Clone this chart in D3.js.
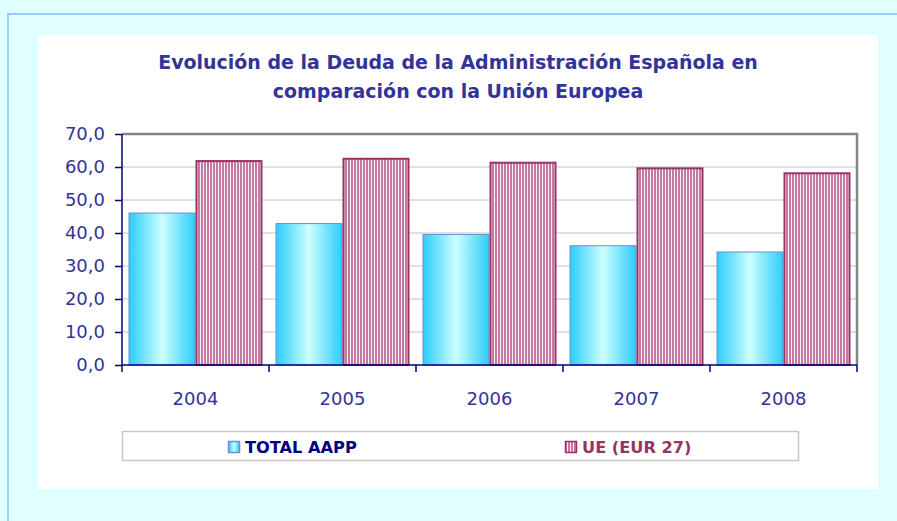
<!DOCTYPE html>
<html>
<head>
<meta charset="utf-8">
<script src="https://cdn.jsdelivr.net/npm/d3@7"></script>
<style>
  body { margin: 0; background: #e0ffff; }
  svg { display: block; }
  text { font-family: "DejaVu Sans", Verdana, sans-serif; }
</style>
</head>
<body>
<div id="container"></div>
<script>
/* DATA */
const years = ["2004", "2005", "2006", "2007", "2008"]
const totalAapp = [46.2, 43.0, 39.7, 36.3, 34.4]
const ueEur27 = [62.1, 62.8, 61.6, 59.9, 58.4]
const seriesNames = ["TOTAL AAPP", "UE (EUR 27)"]
const yTicks = [0, 10, 20, 30, 40, 50, 60, 70]
const titleLines = ["Evolución de la Deuda de la Administración Española en", "comparación con la Unión Europea"]

/* CONSTANTS */
const width = 897,
  height = 521
const plot = { left: 122, right: 857, top: 134, bottom: 365 }
const navy = "#333399"

const svg = d3.select("#container")
  .append("svg")
  .attr("width", width)
  .attr("height", height)

const defs = svg.append("defs")

// blue bars: horizontal gradient, pale in the middle
const grad = defs.append("linearGradient")
  .attr("id", "blueGrad")
  .attr("x1", "0%").attr("x2", "100%")
  .attr("y1", "0%").attr("y2", "0%")
grad.append("stop").attr("offset", "0%").attr("stop-color", "#2ccdfb")
grad.append("stop").attr("offset", "50%").attr("stop-color", "#ccffff")
grad.append("stop").attr("offset", "100%").attr("stop-color", "#2ccdfb")

// red bars: vertical stripes
const pat = defs.append("pattern")
  .attr("id", "stripes")
  .attr("patternUnits", "userSpaceOnUse")
  .attr("width", 3).attr("height", 10)
pat.append("rect").attr("width", 3).attr("height", 10).attr("fill", "#c27a9f")
pat.append("rect").attr("width", 1).attr("height", 10).attr("fill", "#fbf0f6")

// outer frame + white chart area
svg.append("rect")
  .attr("x", 8).attr("y", 14)
  .attr("width", width).attr("height", height)
  .attr("fill", "#e0ffff")
  .attr("stroke", "#99ccff")
  .attr("stroke-width", 2)

svg.append("rect")
  .attr("x", 38).attr("y", 35)
  .attr("width", 840).attr("height", 454)
  .attr("fill", "white")

// TITLE
const title = svg.append("text")
  .attr("text-anchor", "middle")
  .attr("fill", navy)
  .attr("font-weight", "bold")
  .attr("font-size", 17)
title.selectAll("tspan")
  .data(titleLines)
  .join("tspan")
  .attr("x", 458)
  .attr("y", (d, i) => 69 + i * 29)
  .text(d => d)
// squeeze font to the reference width
const tw = title.select("tspan").node().getComputedTextLength()
title.attr("font-size", 17 * 600 / tw)

/* SCALES */
const x = d3.scaleBand()
  .domain(years)
  .range([plot.left, plot.right])

const xInner = d3.scaleBand()
  .domain(seriesNames)
  .range([0, x.bandwidth()])
  .paddingOuter(0.097)

const y = d3.scaleLinear()
  .domain([0, 70])
  .range([plot.bottom, plot.top])

// gridlines
svg.append("g")
  .selectAll("line")
  .data(yTicks.filter(d => d > 0 && d < 70))
  .join("line")
  .attr("x1", plot.left).attr("x2", plot.right)
  .attr("y1", d => y(d)).attr("y2", d => y(d))
  .attr("stroke", "#c0c0c0")
  .attr("stroke-width", 1)

// plot border top/right
svg.append("path")
  .attr("d", `M${plot.left},${y(70)}H${plot.right}V${plot.bottom}`)
  .attr("fill", "none")
  .attr("stroke", "#868686")
  .attr("stroke-width", 2.5)

/* BARS */
const rows = years.map((yr, i) => ({ year: yr, vals: [totalAapp[i], ueEur27[i]] }))

const groups = svg.append("g")
  .selectAll("g")
  .data(rows)
  .join("g")
  .attr("transform", d => `translate(${x(d.year)},0)`)

groups.append("rect")
  .attr("x", xInner(seriesNames[0]) + 0.5)
  .attr("y", d => y(d.vals[0]) + 0.5)
  .attr("width", xInner.bandwidth() - 1)
  .attr("height", d => y(0) - y(d.vals[0]) - 0.5)
  .attr("fill", "url(#blueGrad)")
  .attr("stroke", "#6f8fd0")
  .attr("stroke-width", 1)

groups.append("rect")
  .attr("x", xInner(seriesNames[1]) + 1)
  .attr("y", d => y(d.vals[1]) + 1)
  .attr("width", xInner.bandwidth() - 2)
  .attr("height", d => y(0) - y(d.vals[1]) - 1)
  .attr("fill", "url(#stripes)")
  .attr("stroke", "#993366")
  .attr("stroke-width", 2)

/* AXES */
const fmt = d => d3.format(".1f")(d).replace(".", ",")

const yAxis = svg.append("g")
  .attr("transform", `translate(${plot.left},0)`)
  .call(d3.axisLeft(y).tickValues(yTicks).tickFormat(fmt).tickSize(7).tickPadding(10))
yAxis.select(".domain").attr("stroke", "#000080").attr("stroke-width", 1.5)
  .attr("d", `M0,${plot.top}V${plot.bottom}`)
yAxis.selectAll(".tick line").attr("stroke", "#000080").attr("stroke-width", 1.5)
yAxis.selectAll(".tick text")
  .attr("fill", navy)
  .attr("font-size", 18)
  .attr("font-family", "DejaVu Sans, sans-serif")

const xAxis = svg.append("g")
  .attr("transform", `translate(0,${plot.bottom})`)
xAxis.append("line")
  .attr("x1", plot.left).attr("x2", plot.right)
  .attr("stroke", "#000080").attr("stroke-width", 1.5)
xAxis.selectAll(".sep")
  .data(years.map(d => x(d)).concat([plot.right]))
  .join("line")
  .attr("class", "sep")
  .attr("x1", d => d).attr("x2", d => d)
  .attr("y1", 0).attr("y2", 7)
  .attr("stroke", "#000080").attr("stroke-width", 1.5)
xAxis.selectAll(".lab")
  .data(years)
  .join("text")
  .attr("class", "lab")
  .attr("x", d => x(d) + x.bandwidth() / 2)
  .attr("y", 40)
  .attr("text-anchor", "middle")
  .attr("fill", navy)
  .attr("font-size", 18)
  .text(d => d)

/* LEGEND */
svg.append("rect")
  .attr("x", 122.5).attr("y", 431.5)
  .attr("width", 676).attr("height", 29)
  .attr("fill", "white")
  .attr("stroke", "#c8c8c8")
  .attr("stroke-width", 1.5)

const legendItems = [
  { name: seriesNames[0], sx: 228, fill: "url(#blueGrad)", stroke: "#6f8fd0", color: "#000080" },
  { name: seriesNames[1], sx: 565, fill: "url(#stripes)", stroke: "#993366", color: "#993366" }
]

const leg = svg.append("g")
  .selectAll("g")
  .data(legendItems)
  .join("g")

leg.append("rect")
  .attr("x", d => d.sx + 0.5).attr("y", 441.5)
  .attr("width", 11).attr("height", 11)
  .attr("fill", d => d.fill)
  .attr("stroke", d => d.stroke)
  .attr("stroke-width", 1.5)

leg.append("text")
  .attr("x", d => d.sx + 17)
  .attr("y", 453)
  .attr("fill", d => d.color)
  .attr("font-weight", "bold")
  .attr("font-size", 16.2)
  .text(d => d.name)
</script>
</body>
</html>
